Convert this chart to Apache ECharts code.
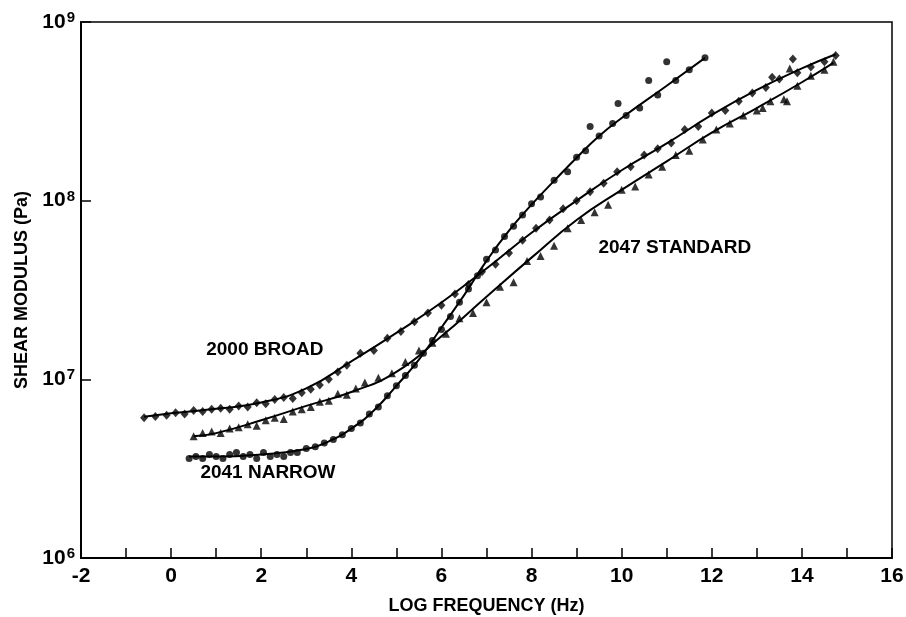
<!DOCTYPE html>
<html><head><meta charset="utf-8">
<script src="https://cdn.jsdelivr.net/npm/echarts@6/dist/echarts.min.js"></script>
<style>html,body{margin:0;padding:0;background:#fff}#c{width:906px;height:617px}</style>
</head><body><div id="c"></div>
<script>
// Fitted curves (log frequency, shear modulus Pa)
var broadCurveX = [-0.6,0,1,2,3,4,5,6,7,8,9,10,11,12,13,14,14.75];
var broadCurveY = [6.17e6,6.46e6,6.84e6,7.41e6,8.9e6,1.26e7,1.82e7,2.69e7,4.17e7,6.61e7,1.0e8,1.48e8,2.09e8,3.02e8,4.17e8,5.5e8,6.6e8];
var narrowCurveX = [0.4,1,2,3,3.5,4,4.5,5,5.5,6,6.5,7,7.5,8,8.5,9,9.5,10,11,11.85];
var narrowCurveY = [3.7e6,3.7e6,3.8e6,4.07e6,4.5e6,5.3e6,6.7e6,9.2e6,1.29e7,1.95e7,2.95e7,4.6e7,6.8e7,9.5e7,1.29e8,1.74e8,2.3e8,2.9e8,4.4e8,6.3e8];
var standardCurveX = [0.5,1,2,3,4,5,6,7,8,9,10,11,12,13,14,14.7];
var standardCurveY = [4.8e6,5.0e6,5.9e6,7.1e6,8.5e6,1.1e7,1.74e7,2.9e7,4.8e7,7.8e7,1.15e8,1.66e8,2.4e8,3.3e8,4.6e8,5.9e8];

// Measured points
var broadX = [-0.6,-0.35,-0.1,0.1,0.3,0.5,0.7,0.9,1.1,1.3,1.5,1.7,1.9,2.1,2.3,2.5,2.7,2.9,3.1,3.3,3.5,3.7,3.9,4.2,4.5,4.8,5.1,5.4,5.7,6.0,6.3,6.6,6.9,7.2,7.5,7.8,8.1,8.4,8.7,9.0,9.3,9.6,9.9,10.2,10.5,10.8,11.1,11.4,11.7,12.0,12.3,12.6,12.9,13.2,13.34,13.5,13.8,13.9,14.2,14.5,14.75];
var broadY = [6.1e6,6.2e6,6.3e6,6.5e6,6.4e6,6.7e6,6.6e6,6.8e6,6.9e6,6.8e6,7.1e6,7.0e6,7.4e6,7.3e6,7.7e6,7.9e6,7.8e6,8.4e6,8.8e6,9.3e6,1.0e7,1.1e7,1.2e7,1.4e7,1.45e7,1.7e7,1.85e7,2.1e7,2.35e7,2.6e7,3.0e7,3.4e7,4.0e7,4.4e7,5.1e7,6.0e7,7.0e7,7.8e7,9.0e7,1.0e8,1.12e8,1.25e8,1.45e8,1.55e8,1.8e8,1.95e8,2.1e8,2.5e8,2.6e8,3.1e8,3.2e8,3.6e8,4.0e8,4.3e8,4.9e8,4.8e8,6.2e8,5.2e8,5.6e8,6.0e8,6.5e8];
var narrowX = [0.4,0.55,0.7,0.85,1.0,1.15,1.3,1.45,1.6,1.75,1.9,2.05,2.2,2.35,2.5,2.65,2.8,3.0,3.2,3.4,3.6,3.8,4.0,4.2,4.4,4.6,4.8,5.0,5.2,5.4,5.6,5.8,6.0,6.2,6.4,6.6,6.8,7.0,7.2,7.4,7.6,7.8,8.0,8.2,8.5,8.8,9.0,9.2,9.3,9.5,9.8,9.92,10.1,10.4,10.6,10.8,11.0,11.2,11.5,11.85];
var narrowY = [3.6e6,3.7e6,3.6e6,3.8e6,3.7e6,3.6e6,3.8e6,3.9e6,3.7e6,3.8e6,3.6e6,3.9e6,3.7e6,3.8e6,3.7e6,3.9e6,3.9e6,4.1e6,4.2e6,4.4e6,4.6e6,4.9e6,5.3e6,5.7e6,6.4e6,7.0e6,8.1e6,9.2e6,1.05e7,1.2e7,1.4e7,1.65e7,1.9e7,2.25e7,2.7e7,3.2e7,3.8e7,4.7e7,5.3e7,6.3e7,7.2e7,8.3e7,9.6e7,1.05e8,1.3e8,1.45e8,1.75e8,1.9e8,2.6e8,2.3e8,2.7e8,3.5e8,3.0e8,3.3e8,4.7e8,3.9e8,6.0e8,4.7e8,5.4e8,6.3e8];
var standardX = [0.5,0.7,0.9,1.1,1.3,1.5,1.7,1.9,2.1,2.3,2.5,2.7,2.9,3.1,3.3,3.5,3.7,3.9,4.1,4.3,4.6,4.9,5.2,5.5,5.8,6.1,6.4,6.7,7.0,7.3,7.6,7.9,8.2,8.5,8.8,9.1,9.4,9.7,10.0,10.3,10.6,10.9,11.2,11.5,11.8,12.1,12.4,12.7,13.0,13.13,13.3,13.6,13.67,13.73,13.9,14.2,14.5,14.7];
var standardY = [4.8e6,5.0e6,5.1e6,5.0e6,5.3e6,5.4e6,5.6e6,5.5e6,5.9e6,6.1e6,6.0e6,6.6e6,6.8e6,7.0e6,7.5e6,7.6e6,8.3e6,8.2e6,8.9e6,9.6e6,1.02e7,1.08e7,1.25e7,1.45e7,1.6e7,1.8e7,2.2e7,2.35e7,2.7e7,3.3e7,3.5e7,4.6e7,4.9e7,5.6e7,7.0e7,7.8e7,8.6e7,9.5e7,1.15e8,1.2e8,1.4e8,1.55e8,1.8e8,1.9e8,2.2e8,2.5e8,2.7e8,3.0e8,3.2e8,3.3e8,3.6e8,3.7e8,3.6e8,5.5e8,4.4e8,5.0e8,5.4e8,6.0e8];

// Annotations (data coordinates of text centres)
var noteTexts = ['2000 BROAD','2041 NARROW','2047 STANDARD'];
var noteX = [2.08, 2.15, 11.18];
var noteY = [1.46e7, 3.0e6, 5.43e7];

// Axis ticks
var xTickLabels = ['-2','0','2','4','6','8','10','12','14','16'];

function zip(xs, ys){ return xs.map(function(x,i){ return [x, ys[i]]; }); }

var FONT = "'Liberation Sans', Arial, sans-serif";
var chart = echarts.init(document.getElementById('c'));
var lineStyle = {color:'#000', width:2};
chart.setOption({
  animation:false,
  backgroundColor:'#fff',
  grid:{left:81, right:14, top:22, bottom:59, show:true, borderColor:'#000', borderWidth:1.5,
        containLabel:false, outerBoundsMode:'none'},
  xAxis:{
    type:'value', min:-2, max:16, interval:1,
    name:'LOG FREQUENCY (Hz)', nameLocation:'middle', nameGap:39,
    nameTextStyle:{fontFamily:FONT, fontWeight:'bold', fontSize:18, color:'#000'},
    axisLine:{onZero:false, lineStyle:{color:'#000', width:2}},
    axisTick:{inside:true, length:10, lineStyle:{color:'#000', width:1.5}},
    splitLine:{show:false},
    axisLabel:{fontFamily:FONT, fontWeight:'bold', fontSize:21, color:'#000', margin:8,
      formatter:function(v){ var s=String(v); return xTickLabels.indexOf(s)>=0 ? s : ''; }}
  },
  yAxis:{
    type:'log', logBase:10, min:1e6, max:1e9,
    name:'SHEAR MODULUS (Pa)', nameLocation:'middle', nameGap:50,
    nameTextStyle:{fontFamily:FONT, fontWeight:'bold', fontSize:18, color:'#000'},
    axisLine:{onZero:false, lineStyle:{color:'#000', width:2}},
    axisTick:{inside:true, length:10, lineStyle:{color:'#000', width:1.5}},
    splitLine:{show:false},
    axisLabel:{margin:6, color:'#000',
      formatter:function(v){ var e=Math.round(Math.log10(v)); return '{b|10}{s|'+e+'}'; },
      rich:{b:{fontFamily:FONT, fontWeight:'bold', fontSize:21, color:'#000'},
            s:{fontFamily:FONT, fontWeight:'bold', fontSize:15, color:'#000', verticalAlign:'top', padding:[0,0,8,1]}}}
  },
  series:[
    {type:'line', data:zip(broadCurveX, broadCurveY), smooth:true, symbol:'none', lineStyle:lineStyle, z:3},
    {type:'line', data:zip(narrowCurveX, narrowCurveY), smooth:true, symbol:'none', lineStyle:lineStyle, z:3},
    {type:'line', data:zip(standardCurveX, standardCurveY), smooth:true, symbol:'none', lineStyle:lineStyle, z:3},
    {type:'scatter', data:zip(broadX, broadY), symbol:'diamond', symbolSize:[8,9], itemStyle:{color:'#000'}, z:4},
    {type:'scatter', data:zip(narrowX, narrowY), symbol:'circle', symbolSize:7, itemStyle:{color:'#000'}, z:4},
    {type:'scatter', data:zip(standardX, standardY), symbol:'triangle', symbolSize:8, itemStyle:{color:'#000'}, z:4}
  ]
});
chart.setOption({
  graphic: noteTexts.map(function(t,i){
    var p = chart.convertToPixel({gridIndex:0}, [noteX[i], noteY[i]]);
    return {type:'text', x:p[0], y:p[1], z:10, silent:true,
      style:{text:t, fill:'#000', font:'bold 19px ' + FONT, align:'center', verticalAlign:'middle'}};
  })
});
</script></body></html>
